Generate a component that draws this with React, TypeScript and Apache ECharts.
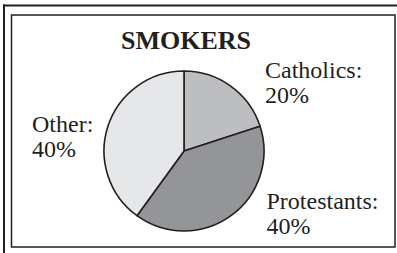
import React, { useEffect, useRef } from "react";
import * as echarts from "echarts";

const categories = ["Catholics", "Protestants", "Other"];
const values = [20, 40, 40];
const sliceColors = ["#bcbec0", "#939598", "#e6e7e8"];
const titleText = "SMOKERS";

// label anchor (top-left) per slice
const labelPos = [
  [265, 57],
  [266.5, 188.5],
  [32, 111],
];

export default function App() {
  const ref = useRef<HTMLDivElement>(null);
  useEffect(() => {
    if (!ref.current) return;
    const chart = echarts.init(ref.current, undefined, { renderer: "svg" });
    const ink = "#231f20";
    chart.setOption({
      animation: false,
      backgroundColor: "#ffffff",
      title: {
        text: titleText,
        left: 186,
        top: 27,
        padding: 0,
        textAlign: "center",
        textStyle: {
          fontFamily: "'Liberation Serif', 'Times New Roman', serif",
          fontWeight: "bold",
          fontSize: 26,
          color: ink,
        },
      },
      graphic: [
        { type: "line", shape: { x1: 3, y1: 5.5, x2: 397, y2: 5.5 }, style: { stroke: ink, lineWidth: 2 } },
        { type: "line", shape: { x1: 4, y1: 4.5, x2: 4, y2: 253 }, style: { stroke: ink, lineWidth: 2 } },
        {
          type: "rect",
          shape: { x: 11.5, y: 15, width: 383.5, height: 232 },
          style: { fill: "none", stroke: ink, lineWidth: 1.5 },
        },
      ],
      series: [
        {
          type: "pie",
          center: [184, 151],
          radius: 80,
          startAngle: 90,
          clockwise: true,
          silent: true,
          data: categories.map((c, i) => ({
            name: c,
            value: values[i],
            itemStyle: { color: sliceColors[i] },
          })),
          itemStyle: { borderColor: ink, borderWidth: 1.6 },
          label: {
            show: true,
            position: "outside",
            alignTo: "none",
            overflow: "none",
            formatter: (p: any) => `${p.name}:\n${p.value}%`,
            fontFamily: "'Liberation Serif', 'Times New Roman', serif",
            fontSize: 24,
            lineHeight: 25,
            color: ink,
            align: "left",
          },
          labelLine: { show: false },
          labelLayout: (params: any) => {
            const pos = labelPos[params.dataIndex];
            return { x: pos[0], y: pos[1], align: "left", verticalAlign: "top" };
          },
        },
      ],
    });
    return () => chart.dispose();
  }, []);
  return (
    <div
      ref={ref}
      style={{ position: "fixed", left: 0, top: 0, width: 397, height: 253 }}
    />
  );
}
